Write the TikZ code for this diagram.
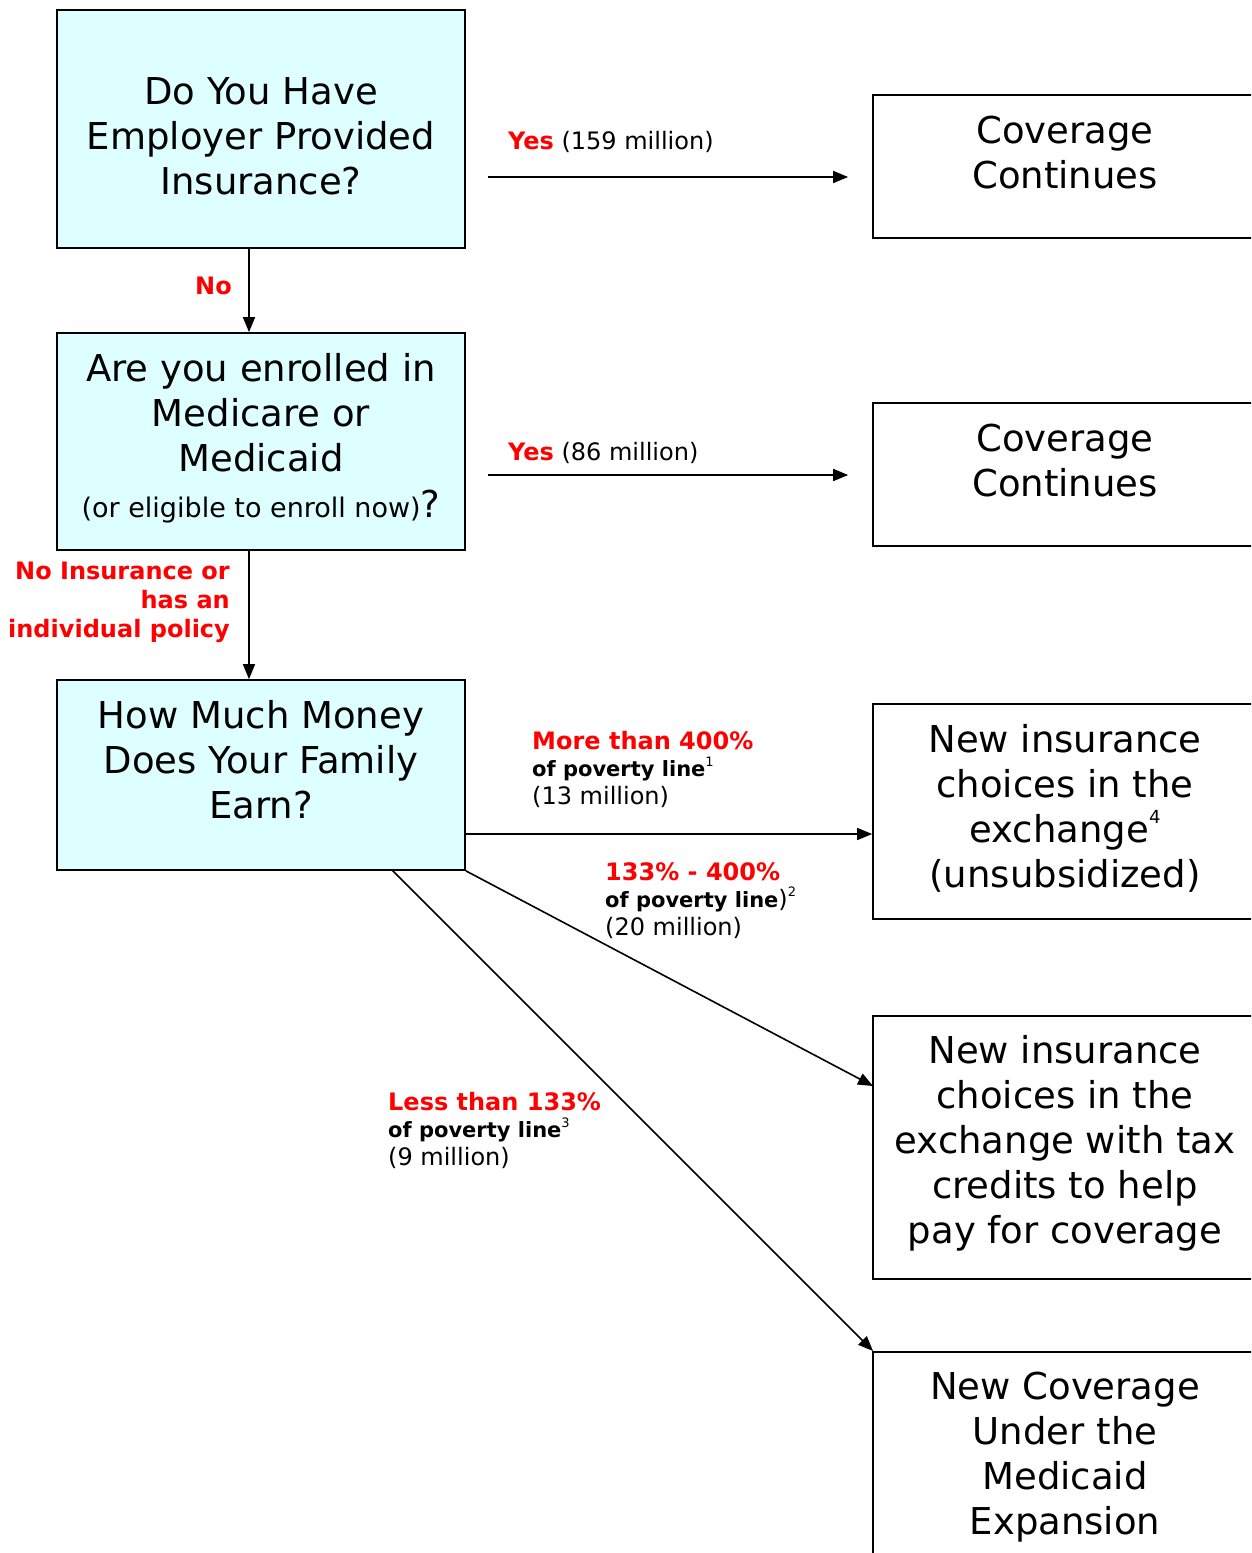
\documentclass[tikz,border=0pt]{standalone}
\usepackage{fontspec}
\setmainfont{DejaVu Sans}
\usetikzlibrary{arrows.meta}
\definecolor{boxfill}{RGB}{222,255,255}
\definecolor{lblred}{RGB}{255,0,0}
\tikzset{
  qbox/.style={draw=black, line width=1.7pt, fill=boxfill, rectangle, inner sep=0pt},
  abox/.style={draw=black, line width=1.7pt, fill=white, rectangle, inner sep=0pt},
  bigtxt/.style={align=center, inner sep=0pt, font=\fontsize{37}{45}\selectfont},
  lbl/.style={align=left, inner sep=0pt, font=\fontsize{24}{27.5}\selectfont},
  conn/.style={line width=1.6pt, -{Triangle[length=15pt,width=12pt]}}
}
\newcommand{\rb}[1]{\textcolor{lblred}{\bfseries #1}}
\newcommand{\pl}[1]{{\fontsize{21}{27.5}\selectfont\bfseries #1}}
\newcommand{\supn}[1]{\raisebox{0.45em}{\fontsize{13}{13}\selectfont #1}}
\newcommand{\supbig}[1]{\raisebox{19pt}{\fontsize{18}{18}\selectfont #1}}
\begin{document}
\begin{tikzpicture}[x=1pt,y=-1pt]
\useasboundingbox (0,0) rectangle (1251,1553);
\clip (0,0) rectangle (1251,1553);
% question boxes
\node[qbox, minimum width=408pt, minimum height=238pt] (q1) at (261,129) {};
\node[qbox, minimum width=408pt, minimum height=217pt] (q2) at (261,441.5) {};
\node[qbox, minimum width=408pt, minimum height=190pt] (q3) at (261,775) {};
% answer boxes
\node[abox, minimum width=384pt, minimum height=143pt] (a1) at (1065,166.5) {};
\node[abox, minimum width=384pt, minimum height=143pt] (a2) at (1065,474.5) {};
\node[abox, minimum width=384pt, minimum height=215pt] (a3) at (1065,811.5) {};
\node[abox, minimum width=384pt, minimum height=263pt] (a4) at (1065,1147.5) {};
\node[abox, minimum width=384pt, minimum height=300pt] (a5) at (1065,1502) {};
% texts
\node[bigtxt] (q1t) at (261,136) {Do You Have\\Employer Provided\\Insurance?};
\node[bigtxt] (q2t) at (261,413) {Are you enrolled in\\Medicare or\\Medicaid};
\node[inner sep=0pt, anchor=base] (q2s) at (261,517) {{\fontsize{27}{30}\selectfont (or eligible to enroll now)}{\fontsize{37}{45}\selectfont ?}};
\node[bigtxt] (q3t) at (261,760) {How Much Money\\Does Your Family\\Earn?};
\node[bigtxt] (a1t) at (1065,153) {Coverage\\Continues};
\node[bigtxt] (a2t) at (1065,461) {Coverage\\Continues};
\node[bigtxt] (a3t) at (1065,808) {New insurance\\choices in the\\exchange\supbig{4}\\(unsubsidized)};
\node[bigtxt] (a4t) at (1065,1143) {New insurance\\choices in the\\exchange with tax\\credits to help\\pay for coverage};
\node[bigtxt] (a5t) at (1065,1457) {New Coverage\\Under the\\Medicaid\\Expansion};
% connectors
\coordinate (y1s) at (488,177);
\coordinate (y1e) at (a1.west|-y1s);
\draw[conn] (y1s) -- ([xshift=-24pt]y1e);
\coordinate (y2s) at (488,475);
\coordinate (y2e) at (a2.west|-y2s);
\draw[conn] (y2s) -- ([xshift=-24pt]y2e);
\coordinate (n1s) at (249,248);
\draw[conn] (n1s) -- (n1s|-q2.north);
\coordinate (n2s) at (249,550);
\draw[conn] (n2s) -- (n2s|-q3.north);
\coordinate (m1s) at (465,834);
\draw[conn] (m1s) -- (a3.west|-m1s);
\draw[conn] (q3.south east) -- (873,1086);
\coordinate (l1s) at (392,870);
\draw[conn] (l1s) -- (873,1351);
% labels
\node[lbl, anchor=west] (ly1) at (508,142) {\rb{Yes} (159 million)};
\node[lbl, anchor=west] (ly2) at (508,453) {\rb{Yes} (86 million)};
\node[lbl, anchor=east] (ln1) at (232,286) {\rb{No}};
\node[lbl, anchor=north east, align=right, font=\fontsize{24}{29}\selectfont] (ln2) at (230,562) {\rb{No Insurance or}\\\rb{has an}\\\rb{individual policy}};
\node[lbl, anchor=north west] (lm1) at (532,731) {\rb{More than 400\%}\\\pl{of poverty line}\supn{1}\\(13 million)};
\node[lbl, anchor=north west] (lm2) at (605,862) {\rb{133\% - 400\%}\\\pl{of poverty line})\supn{2}\\(20 million)};
\node[lbl, anchor=north west] (lm3) at (388,1092) {\rb{Less than 133\%}\\\pl{of poverty line}\supn{3}\\(9 million)};
\end{tikzpicture}
\end{document}
